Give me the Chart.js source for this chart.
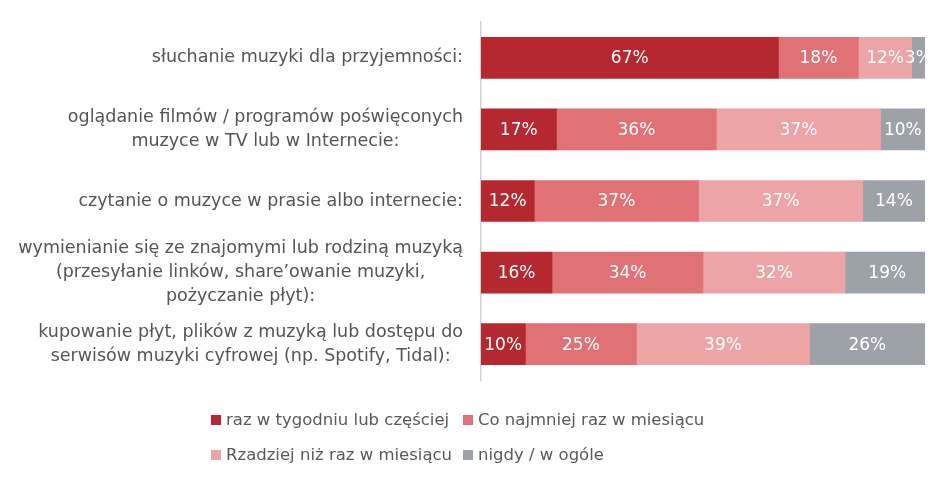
<!DOCTYPE html>
<html>
<head>
<meta charset="utf-8">
<script src="https://cdn.jsdelivr.net/npm/chart.js@4.4.1/dist/chart.umd.min.js"></script>
<style>
  html, body { margin: 0; padding: 0; background: #fff; }
  #wrap { position: relative; width: 948px; height: 481px; }
  #legend { position: absolute; left: 211px; top: 408px; font-family: "DejaVu Sans", sans-serif; font-size: 16.5px; color: #595959; }
  #legend .item { position: absolute; white-space: nowrap; line-height: 24px; }
  #legend .box { display: inline-block; width: 10px; height: 10px; margin-right: 5px; vertical-align: 0px; }
</style>
</head>
<body>
<div id="wrap">
  <canvas id="chart" width="948" height="481"></canvas>
  <div id="legend"></div>
</div>
<script>
// kategorie (etykiety osi Y)
const categories = [
  ['słuchanie muzyki dla przyjemności:'],
  ['oglądanie filmów / programów poświęconych', 'muzyce w TV lub w Internecie:'],
  ['czytanie o muzyce w prasie albo internecie:'],
  ['wymienianie się ze znajomymi lub rodziną muzyką', '(przesyłanie linków, share\u2019owanie muzyki,', 'pożyczanie płyt):'],
  ['kupowanie płyt, plików z muzyką lub dostępu do', 'serwisów muzyki cyfrowej (np. Spotify, Tidal):']
];

const seriesNames = ['raz w tygodniu lub częściej', 'Co najmniej raz w miesiącu', 'Rzadziej niż raz w miesiącu', 'nigdy / w ogóle'];

// wartości w procentach
const weekly = [67, 17, 12, 16, 10];
const monthly = [18, 36, 37, 34, 25];
const rarely = [12, 37, 37, 32, 39];
const never = [3, 10, 14, 19, 26];

const colors = ['#B5282F', '#E07276', '#ECA4A7', '#9DA1A8'];

const FONT = '"DejaVu Sans", sans-serif';

// etykiety kategorii: blok wyrównany do prawej, linie wyśrodkowane
const categoryLabels = {
  id: 'categoryLabels',
  afterDraw(chart) {
    const ctx = chart.ctx;
    const y = chart.scales.y;
    const right = chart.chartArea.left - 18;
    const lh = 24;
    ctx.save();
    ctx.font = '17.5px ' + FONT;
    ctx.fillStyle = '#555555';
    ctx.textAlign = 'center';
    ctx.textBaseline = 'middle';
    categories.forEach((lines, i) => {
      const maxW = Math.max(...lines.map(l => ctx.measureText(l).width));
      const cx = right - maxW / 2;
      const cy = y.getPixelForValue(i);
      const top = cy - (lines.length - 1) * lh / 2;
      lines.forEach((l, j) => ctx.fillText(l, cx, top + j * lh));
    });
    ctx.restore();
  }
};

// procenty na słupkach
const valueLabels = {
  id: 'valueLabels',
  afterDatasetsDraw(chart) {
    const ctx = chart.ctx;
    ctx.save();
    ctx.font = '17px ' + FONT;
    ctx.fillStyle = '#ffffff';
    ctx.textAlign = 'center';
    ctx.textBaseline = 'middle';
    chart.data.datasets.forEach((ds, di) => {
      chart.getDatasetMeta(di).data.forEach((bar, i) => {
        ctx.fillText(ds.data[i] + '%', (bar.x + bar.base) / 2, bar.y + 1);
      });
    });
    ctx.restore();
  }
};

const allSeries = [weekly, monthly, rarely, never];

const chart = new Chart(document.getElementById('chart'), {
  type: 'bar',
  data: {
    labels: categories.map(c => c.join(' ')),
    datasets: allSeries.map((d, i) => ({
      label: seriesNames[i],
      data: d,
      backgroundColor: colors[i],
      borderWidth: 0,
      barThickness: 41,
      clip: 0
    }))
  },
  options: {
    indexAxis: 'y',
    responsive: false,
    animation: false,
    layout: { padding: { top: 22, bottom: 101, right: 23, left: 0 } },
    scales: {
      x: { stacked: true, min: 0, max: 100, display: false },
      y: {
        stacked: true,
        ticks: { display: false },
        grid: { display: false, drawTicks: false },
        border: { display: true, color: '#cfcfcf', width: 1.5, dash: [2, 2] },
        afterFit(scale) { scale.width = 481; }
      }
    },
    plugins: { legend: { display: false }, tooltip: { enabled: false } }
  },
  plugins: [categoryLabels, valueLabels]
});

// legenda w układzie 2x2
const legend = document.getElementById('legend');
const pos = [[0, 0], [252, 0], [0, 35], [252, 35]];
chart.data.datasets.forEach((ds, i) => {
  const el = document.createElement('div');
  el.className = 'item';
  el.style.left = pos[i][0] + 'px';
  el.style.top = pos[i][1] + 'px';
  el.innerHTML = '<span class="box" style="background:' + ds.backgroundColor + '"></span>' + ds.label;
  legend.appendChild(el);
});
</script>
</body>
</html>
